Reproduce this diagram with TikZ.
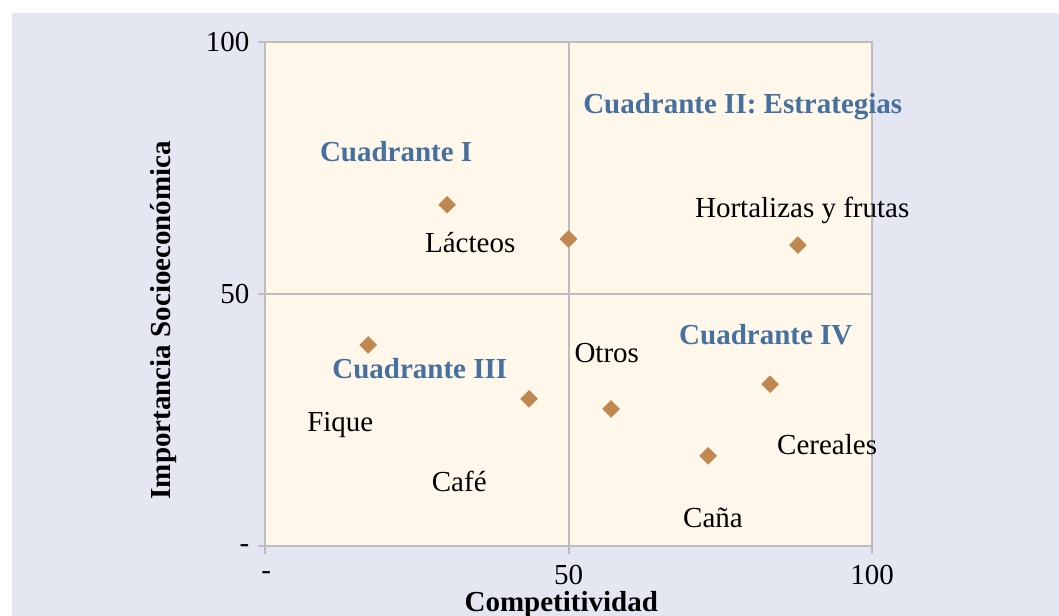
\documentclass[tikz,border=0pt]{standalone}
\usepackage{fontspec}
\setmainfont{Liberation Serif}
\usepackage{tikz}
\usetikzlibrary{shapes.geometric}
\definecolor{colorBack}{HTML}{E4E6F2}
\definecolor{colorPlot}{HTML}{FEF7EA}
\definecolor{colorGrid}{HTML}{BDBDBD}
\definecolor{colorQuad}{HTML}{46709E}
\definecolor{colorMark}{HTML}{C08850}
\tikzset{
  dot/.style={diamond, fill=colorMark, inner sep=0pt, minimum width=9pt, minimum height=9pt},
  quad/.style={font=\fontsize{14.5}{17}\selectfont\bfseries, text=colorQuad},
  crop/.style={font=\fontsize{14.5}{17}\selectfont},
  ticklabel/.style={font=\fontsize{14.5}{17}\selectfont, inner sep=1pt},
  axistitle/.style={font=\fontsize{14.5}{17}\selectfont\bfseries, inner sep=1pt},
}

\begin{document}
\begin{tikzpicture}[x=3.035pt, y=2.52pt]
\useasboundingbox (-43.66,108.33) rectangle (130.8,-13.89);
\fill[colorBack] (-41.68,105.75) rectangle (130.8,-13.89);
% plot area
\fill[colorPlot] (0,0) rectangle (100,100);
\draw[colorGrid, line width=1pt] (50,0) -- (50,100);
\draw[colorGrid, line width=1pt] (0,50) -- (100,50);
\draw[colorGrid, line width=1pt] (0,0) rectangle (100,100);
% ticks
\foreach \v in {0,50,100} {
  \draw[colorGrid, line width=1pt] (-1.15,\v) -- (0,\v);
  \draw[colorGrid, line width=1pt] (\v,0) -- (\v,-1.6);
}
\node[ticklabel, anchor=east] (y100) at (-2.2,100) {100};
\node[ticklabel, anchor=east] (y50) at (-2.2,50) {50};
\node[ticklabel, anchor=east] (y0) at (-2.2,-0.5) {-};
\node[ticklabel] (x0) at (0.2,-5.8) {-};
\node[ticklabel] (x50) at (50,-5.8) {50};
\node[ticklabel] (x100) at (100,-5.8) {100};
\node[axistitle] (xtitle) at (48.8,-11.6) {Competitividad};
\node[axistitle, rotate=90] (ytitle) at (-16.8,44.8) {Importancia Socioeconómica};
% points
\node[dot] (p1) at (30,67.7) {};
\node[dot] (p2) at (50,60.9) {};
\node[dot] (p3) at (87.8,59.7) {};
\node[dot] (p4) at (17,39.9) {};
\node[dot] (p5) at (43.5,29.2) {};
\node[dot] (p6) at (57,27.2) {};
\node[dot] (p7) at (83.2,32.1) {};
\node[dot] (p8) at (73,17.9) {};
% quadrants
\node[quad] (q1) at (21.6,78.2) {Cuadrante I};
\node[quad] (q2) at (78.7,87.1) {Cuadrante II: Estrategias};
\node[quad] (q3) at (25.5,35.1) {Cuadrante III};
\node[quad] (q4) at (82.5,41.9) {Cuadrante IV};
% labels
\node[crop] (lacteos) at (33.8,60.3) {Lácteos};
\node[crop] (hortalizas) at (88.5,66.5) {Hortalizas y frutas};
\node[crop] (otros) at (56.3,38.3) {Otros};
\node[crop] (fique) at (12.4,24) {Fique};
\node[crop] (cafe) at (32,12.9) {Café};
\node[crop] (cereales) at (92.6,20.2) {Cereales};
\node[crop] (cana) at (73.8,5.6) {Caña};
\end{tikzpicture}
\end{document}
